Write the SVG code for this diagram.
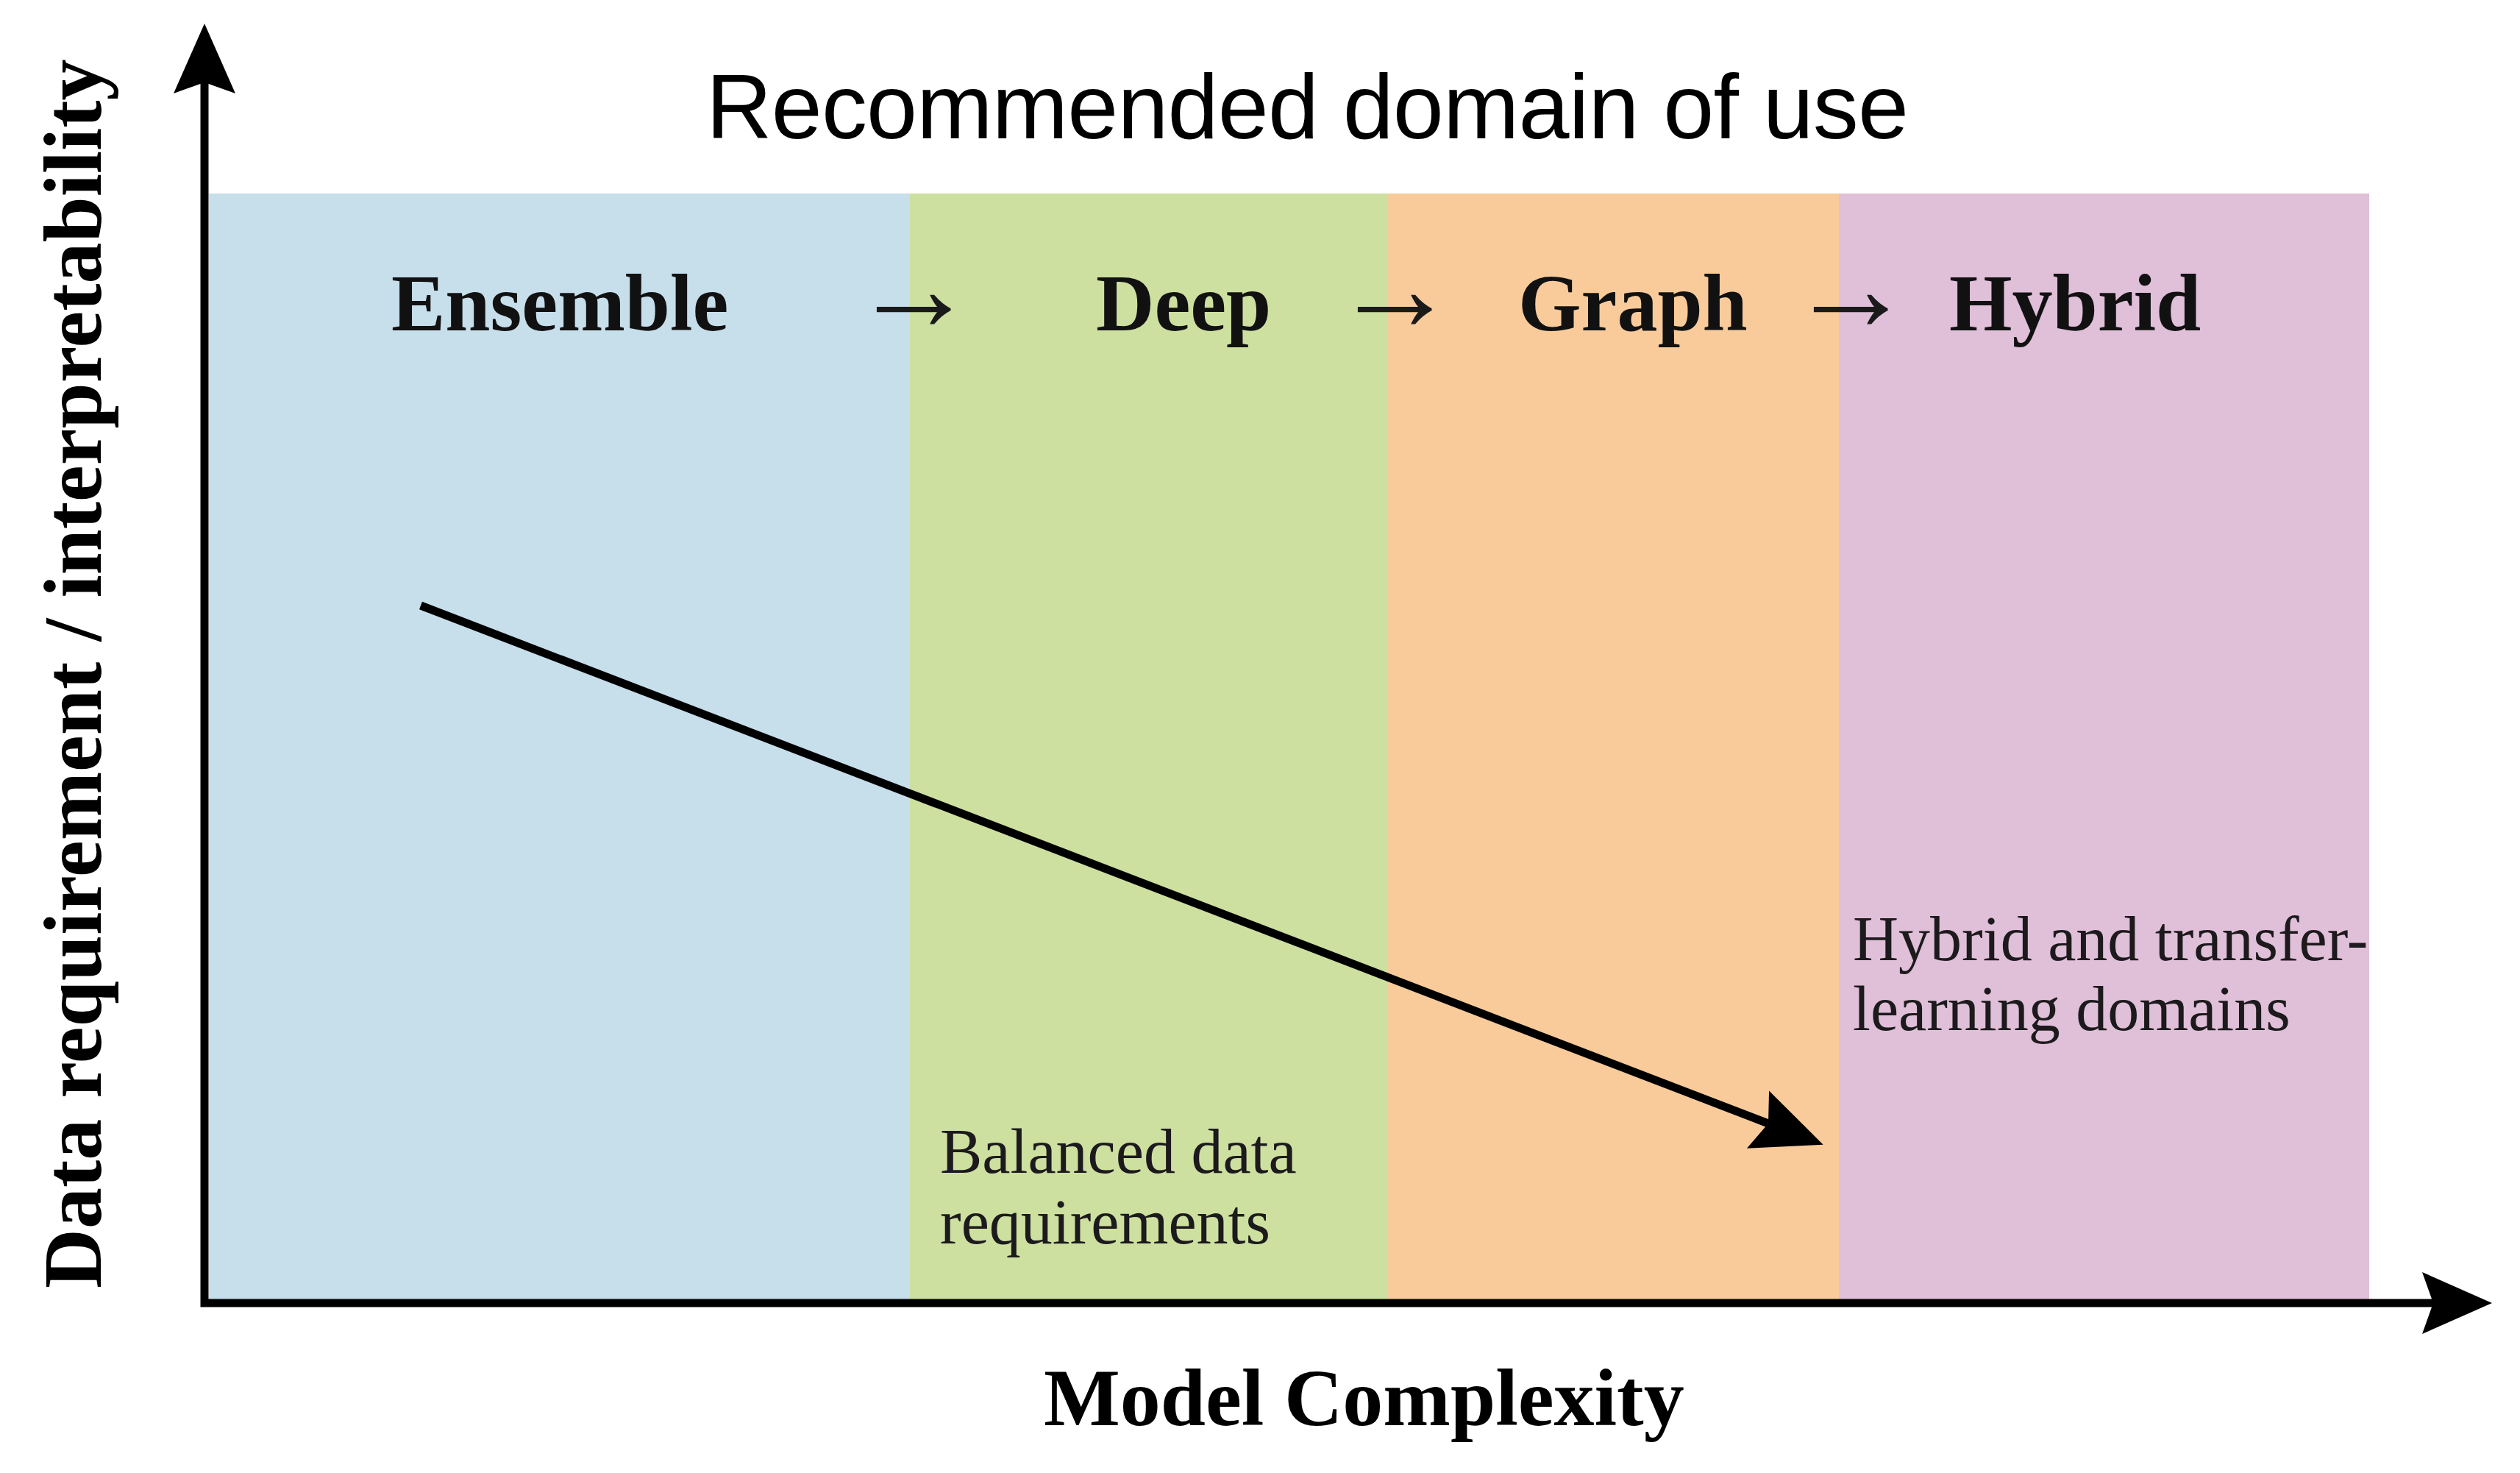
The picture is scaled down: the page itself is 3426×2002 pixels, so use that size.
<svg xmlns="http://www.w3.org/2000/svg" width="3426" height="2002" viewBox="0 0 3426 2002">
  <style>
    .region-label { font-family: "Liberation Serif", "Times New Roman", serif; font-weight: bold; font-size: 110px; fill: #111; }
    .arrow-glyph { font-family: "Liberation Serif", "DejaVu Serif", serif; font-size: 170px; fill: #1a1a1a; }
    .note { font-family: "Liberation Serif", "Times New Roman", serif; font-size: 86px; fill: #1c1a1c; }
    .axis-label { font-family: "Liberation Serif", "Times New Roman", serif; font-weight: bold; font-size: 110px; fill: #000; }
    .title { font-family: "Liberation Sans", Arial, sans-serif; font-size: 124px; fill: #000; }
    .line { fill: none; stroke: #000; stroke-width: 11; }
  </style>
  <defs>
    <marker id="head" markerUnits="userSpaceOnUse" markerWidth="200" markerHeight="200" viewBox="-100 -100 200 200" refX="0" refY="0" orient="auto-start-reverse" overflow="visible">
      <path d="M80,0 L-15,-42 L0,0 L-15,42 Z" fill="#000"/>
    </marker>
  </defs>
  <rect x="0" y="0" width="3426" height="2002" fill="#fff"/>

  <g id="title">
    <text class="title" x="960" y="188" textLength="1635" lengthAdjust="spacing">Recommended domain of use</text>
  </g>

  <g id="region-ensemble">
    <rect x="284" y="263" width="953" height="1508" fill="#c7deeb"/>
    <text class="region-label" x="532" y="449">Ensemble</text>
  </g>
  <g id="region-deep">
    <rect x="1237" y="263" width="649" height="1508" fill="#cde0a0"/>
    <text class="region-label" x="1490" y="449">Deep</text>
    <text class="note" x="1278" y="1594">Balanced data</text>
    <text class="note" x="1278" y="1690">requirements</text>
  </g>
  <g id="region-graph">
    <rect x="1886" y="263" width="614" height="1508" fill="#f9cb9a"/>
    <text class="region-label" x="2064" y="449">Graph</text>
  </g>
  <g id="region-hybrid">
    <rect x="2500" y="263" width="721" height="1508" fill="#e0bfd8"/>
    <text class="region-label" x="2650" y="449">Hybrid</text>
    <text class="note" x="2519" y="1305">Hybrid and transfer-</text>
    <text class="note" x="2519" y="1400">learning domains</text>
  </g>

  <g id="sequence-arrows">
    <text class="arrow-glyph" x="1157" y="449">→</text>
    <text class="arrow-glyph" x="1811" y="449">→</text>
    <text class="arrow-glyph" x="2431" y="449">→</text>
  </g>

  <g id="connectors">
    <path class="line" d="M278,112 V1771 H3308" stroke-linejoin="miter" marker-start="url(#head)" marker-end="url(#head)"/>
    <path class="line" d="M572,823 L2404,1527" marker-end="url(#head)"/>
  </g>

  <g id="axis-labels">
    <text class="axis-label" transform="translate(137,1751) rotate(-90)" x="0" y="0" style="font-size:112px">Data requirement / interpretability</text>
    <text class="axis-label" x="1419" y="1937">Model Complexity</text>
  </g>
</svg>
